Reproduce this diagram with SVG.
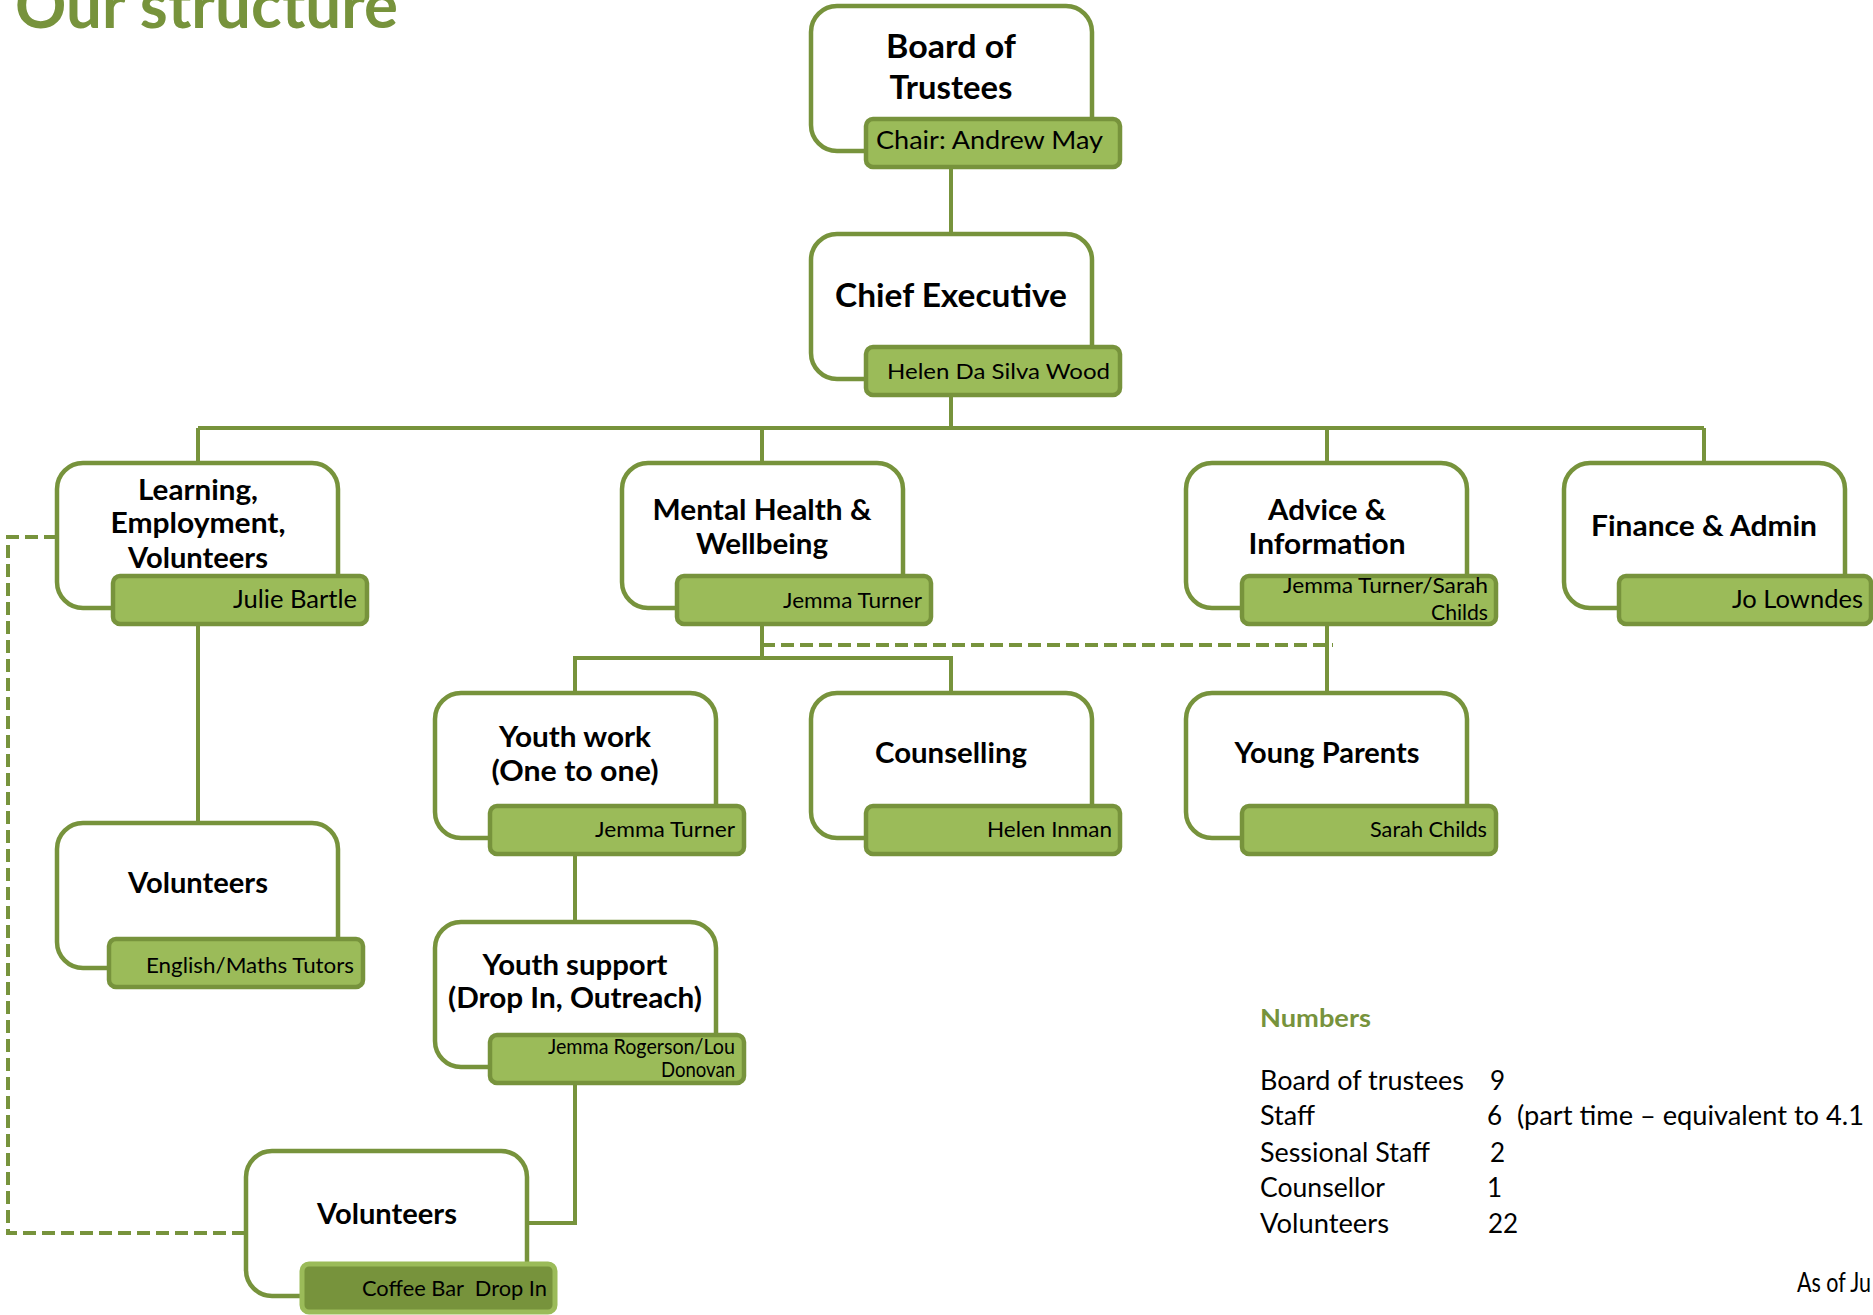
<svg xmlns="http://www.w3.org/2000/svg" width="1873" height="1315" viewBox="0 0 1873 1315">
<style>
.box{fill:#ffffff;stroke:#77933c;stroke-width:4.5}
.lbl{fill:#9bbb59;stroke:#77933c;stroke-width:4.5}
.lbl2{fill:#77933c;stroke:#9bbb59;stroke-width:5}
.conn{fill:none;stroke:#77933c;stroke-width:4}
.dash{stroke-dasharray:13 6}
.t{font-family:Lato,"Liberation Sans",sans-serif;font-weight:700;fill:#000;text-anchor:middle;font-size:28px}
.tb{font-size:33px}
.l{font-family:Lato,"Liberation Sans",sans-serif;fill:#000;text-anchor:end;font-size:21.5px}
.lg{font-size:25px}
.n{font-family:Lato,"Liberation Sans",sans-serif;fill:#000;font-size:26px}
.h{font-family:Lato,"Liberation Sans",sans-serif;font-weight:700;fill:#77933c}
</style>
<rect width="1873" height="1315" fill="#ffffff"/>
<text class="h" x="15" y="28" font-size="64" textLength="383" lengthAdjust="spacingAndGlyphs">Our structure</text>

<g id="connectors">
<path class="conn" d="M951 167 V234"/>
<path class="conn" d="M951 396 V428 M198 428 H1704 M198 428 V463 M762 428 V463 M1327 428 V463 M1704 428 V463"/>
<path class="conn" d="M198 625 V823"/>
<path class="conn" d="M762 625 V658 M575 693 V658 H951 V693"/>
<path class="conn" d="M1327 625 V693"/>
<path class="conn" d="M575 855 V922"/>
<path class="conn" d="M575 1085 V1223 H528"/>
<path class="conn dash" d="M762 645 H1333"/>
<path class="conn dash" d="M57 537 H8 V1233 H246"/>
</g>

<g id="board">
<rect class="box" x="811" y="6" width="281" height="145" rx="26"/>
<rect class="lbl" x="866" y="119" width="254" height="48" rx="7"/>
<text class="t tb" x="951" y="58" textLength="130" lengthAdjust="spacingAndGlyphs">Board of</text>
<text class="t tb" x="951" y="99" textLength="123" lengthAdjust="spacingAndGlyphs">Trustees</text>
<text class="l lg" x="1103" y="149" textLength="227" lengthAdjust="spacingAndGlyphs">Chair: Andrew May</text>
</g>

<g id="chief">
<rect class="box" x="811" y="234" width="281" height="145" rx="26"/>
<rect class="lbl" x="866" y="347" width="254" height="48" rx="7"/>
<text class="t tb" x="951" y="307" textLength="232" lengthAdjust="spacingAndGlyphs">Chief Executive</text>
<text class="l" x="1110" y="379" font-size="23" textLength="223" lengthAdjust="spacingAndGlyphs">Helen Da Silva Wood</text>
</g>

<g id="learning">
<rect class="box" x="57" y="463" width="281" height="145" rx="26"/>
<rect class="lbl" x="113" y="576" width="254" height="48" rx="7"/>
<text class="t" x="198" y="500" textLength="120" lengthAdjust="spacingAndGlyphs">Learning,</text>
<text class="t" x="198" y="533" textLength="175" lengthAdjust="spacingAndGlyphs">Employment,</text>
<text class="t" x="198" y="568" textLength="140" lengthAdjust="spacingAndGlyphs">Volunteers</text>
<text class="l lg" x="357" y="608" textLength="124" lengthAdjust="spacingAndGlyphs">Julie Bartle</text>
</g>

<g id="mental">
<rect class="box" x="622" y="463" width="281" height="145" rx="26"/>
<rect class="lbl" x="677" y="576" width="254" height="48" rx="7"/>
<text class="t" x="762" y="520" textLength="219" lengthAdjust="spacingAndGlyphs">Mental Health &amp;</text>
<text class="t" x="762" y="554" textLength="132" lengthAdjust="spacingAndGlyphs">Wellbeing</text>
<text class="l" x="922" y="608" textLength="139" lengthAdjust="spacingAndGlyphs">Jemma Turner</text>
</g>

<g id="advice">
<rect class="box" x="1186" y="463" width="281" height="145" rx="26"/>
<rect class="lbl" x="1242" y="576" width="254" height="48" rx="7"/>
<text class="t" x="1327" y="520" textLength="118" lengthAdjust="spacingAndGlyphs">Advice &amp;</text>
<text class="t" x="1327" y="554" textLength="157" lengthAdjust="spacingAndGlyphs">Information</text>
<text class="l" x="1488" y="593" font-size="20.5" textLength="205" lengthAdjust="spacingAndGlyphs">Jemma Turner/Sarah</text>
<text class="l" x="1488" y="620" font-size="20.5" textLength="57" lengthAdjust="spacingAndGlyphs">Childs</text>
</g>

<g id="finance">
<rect class="box" x="1564" y="463" width="281" height="145" rx="26"/>
<rect class="lbl" x="1619" y="576" width="252" height="48" rx="7"/>
<text class="t" x="1704" y="536" textLength="226" lengthAdjust="spacingAndGlyphs">Finance &amp; Admin</text>
<text class="l lg" x="1863" y="608" textLength="131" lengthAdjust="spacingAndGlyphs">Jo Lowndes</text>
</g>

<g id="youthwork">
<rect class="box" x="435" y="693" width="281" height="145" rx="26"/>
<rect class="lbl" x="490" y="806" width="254" height="48" rx="7"/>
<text class="t" x="575" y="747" textLength="152" lengthAdjust="spacingAndGlyphs">Youth work</text>
<text class="t" x="575" y="781" textLength="167" lengthAdjust="spacingAndGlyphs">(One to one)</text>
<text class="l" x="735" y="837" textLength="140" lengthAdjust="spacingAndGlyphs">Jemma Turner</text>
</g>

<g id="counselling">
<rect class="box" x="811" y="693" width="281" height="145" rx="26"/>
<rect class="lbl" x="866" y="806" width="254" height="48" rx="7"/>
<text class="t" x="951" y="763" textLength="152" lengthAdjust="spacingAndGlyphs">Counselling</text>
<text class="l" x="1112" y="837" textLength="125" lengthAdjust="spacingAndGlyphs">Helen Inman</text>
</g>

<g id="youngparents">
<rect class="box" x="1186" y="693" width="281" height="145" rx="26"/>
<rect class="lbl" x="1242" y="806" width="254" height="48" rx="7"/>
<text class="t" x="1327" y="763" textLength="185" lengthAdjust="spacingAndGlyphs">Young Parents</text>
<text class="l" x="1487" y="837" textLength="117" lengthAdjust="spacingAndGlyphs">Sarah Childs</text>
</g>

<g id="volunteers-tutors">
<rect class="box" x="57" y="823" width="281" height="145" rx="26"/>
<rect class="lbl" x="109" y="939" width="254" height="48" rx="7"/>
<text class="t" x="198" y="893" textLength="140" lengthAdjust="spacingAndGlyphs">Volunteers</text>
<text class="l" x="354" y="973" font-size="22" textLength="208" lengthAdjust="spacingAndGlyphs">English/Maths Tutors</text>
</g>

<g id="youthsupport">
<rect class="box" x="435" y="922" width="281" height="145" rx="26"/>
<rect class="lbl" x="490" y="1035" width="254" height="48" rx="7"/>
<text class="t" x="575" y="975" textLength="185" lengthAdjust="spacingAndGlyphs">Youth support</text>
<text class="t" x="575" y="1008" textLength="254" lengthAdjust="spacingAndGlyphs">(Drop In, Outreach)</text>
<text class="l" x="735" y="1054" font-size="19" textLength="187" lengthAdjust="spacingAndGlyphs">Jemma Rogerson/Lou</text>
<text class="l" x="735" y="1077" font-size="19" textLength="74" lengthAdjust="spacingAndGlyphs">Donovan</text>
</g>

<g id="volunteers-coffee">
<rect class="box" x="246" y="1151" width="281" height="145" rx="26"/>
<rect class="lbl2" x="302" y="1264" width="253" height="48" rx="7"/>
<text class="t" x="387" y="1224" textLength="140" lengthAdjust="spacingAndGlyphs">Volunteers</text>
<text class="l" x="547" y="1296" font-size="22" style="white-space:pre" textLength="185" lengthAdjust="spacingAndGlyphs">Coffee Bar  Drop In</text>
</g>

<g id="numbers">
<text class="h" x="1260" y="1027" font-size="25" textLength="111" lengthAdjust="spacingAndGlyphs">Numbers</text>
<text class="n" x="1260" y="1090" textLength="204" lengthAdjust="spacingAndGlyphs">Board of trustees</text>
<text class="n" x="1490" y="1090">9</text>
<text class="n" x="1260" y="1125" textLength="55" lengthAdjust="spacingAndGlyphs">Staff</text>
<text class="n" x="1487" y="1125">6</text>
<text class="n" x="1517" y="1125" textLength="347" lengthAdjust="spacingAndGlyphs">(part time – equivalent to 4.1</text>
<text class="n" x="1260" y="1162" textLength="170" lengthAdjust="spacingAndGlyphs">Sessional Staff</text>
<text class="n" x="1490" y="1162">2</text>
<text class="n" x="1260" y="1197" textLength="125" lengthAdjust="spacingAndGlyphs">Counsellor</text>
<text class="n" x="1487" y="1197">1</text>
<text class="n" x="1260" y="1233" textLength="129" lengthAdjust="spacingAndGlyphs">Volunteers</text>
<text class="n" x="1488" y="1233">22</text>
<text class="n" x="1797" y="1292" font-size="20" textLength="74" lengthAdjust="spacingAndGlyphs">As of Ju</text>
</g>
</svg>
